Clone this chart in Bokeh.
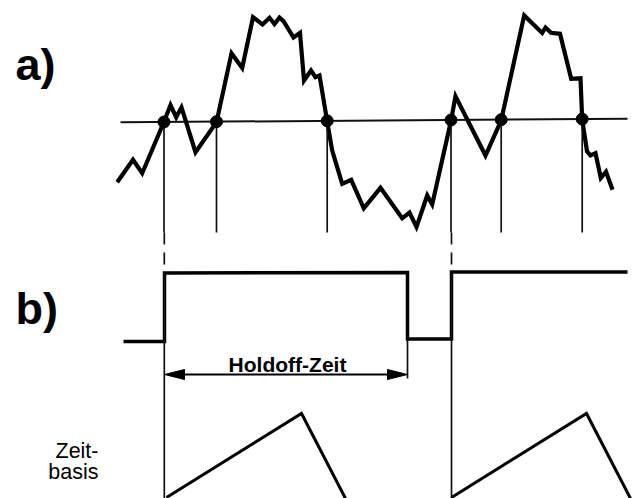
from bokeh.plotting import figure
from bokeh.models import Range1d
from bokeh.core.properties import value
from bokeh.embed import file_html
from bokeh.resources import INLINE

# ---- a) input signal (schematic units: x to the right, y downward) ----
sig_x = [116.7, 132.5, 141.7, 163.3, 170, 175.7, 181, 195, 216, 231, 241.7, 252.5,
         262, 269, 274, 279, 283, 293, 299.5, 303.5, 310.5, 315, 319, 326.7, 331.7,
         341.7, 350.7, 363.3, 380, 401.7, 409, 416, 426.7, 431.7, 450.5, 455, 485,
         500.7, 523.7, 541.7, 545, 550.5, 559.5, 570.7, 580, 581.7, 586.5, 590, 595,
         600.3, 605.5, 612]
sig_y = [181.7, 159.3, 172.7, 121.7, 104.5, 116.7, 106.8, 151.7, 121.7, 52.7, 67.5, 16.7,
         24, 17.3, 23.5, 17, 20.7, 37, 32.3, 80, 70, 76.7, 75, 121, 150,
         183.3, 179.3, 207.8, 187.3, 217.8, 212, 226.4, 195, 204, 120.3, 95.8, 155,
         119.8, 15, 32.5, 27, 32.3, 33.3, 78.3, 77.8, 119, 150.8, 155, 152.7,
         177.5, 171.2, 189.3]

# trigger level line
level_x = [120, 627]
level_y = [121.8, 118.3]

# crossings of the trigger level
cross_x = [163.5, 216, 326.7, 450.5, 500.7, 581.7]
cross_bottom = 232
trigger_x = [163.8, 451]          # crossings that actually start the time base

# ---- b) trigger / holdoff gate ----
gate_x = [123, 164, 164, 407, 407, 451, 451, 627]
gate_y = [341, 341, 272.5, 272, 338.5, 338.5, 271.5, 271.5]
gate_top = 272
holdoff_start = 164
holdoff_end = 407
holdoff_y = 374

# ---- time base sawtooth ----
saw_x = [[166, 301, 345], [451, 586, 630]]
saw_y = [[497, 413, 498], [497, 413, 498]]
saw_bottom = 498

def level_at(x):
    return level_y[0] + (level_y[1] - level_y[0]) * (x - level_x[0]) / (level_x[1] - level_x[0])

cross_y = [level_at(x) for x in cross_x]

p = figure(width=632, height=498, x_range=Range1d(0, 632), y_range=Range1d(498, 0),
           output_backend="svg", toolbar_location=None, min_border=0,
           x_axis_type=None, y_axis_type=None)
p.grid.visible = False
p.outline_line_color = None
p.background_fill_color = "white"
p.border_fill_color = "white"

# level line
p.line(level_x, level_y, line_width=2, color="#111111")
# signal
p.line(sig_x, sig_y, line_width=4.2, color="black", line_join="miter")
# verticals from crossings
p.segment(x0=cross_x, y0=cross_y, x1=cross_x, y1=[cross_bottom] * len(cross_x),
          line_width=1.7, color="#111111")
# dashed continuation to gate
p.segment(x0=trigger_x, y0=[cross_bottom] * 2, x1=trigger_x, y1=[gate_top] * 2,
          line_width=1.7, color="#111111", line_dash="12 8")
# crossing dots
p.scatter(cross_x, cross_y, size=12, color="black")

# gate
p.line(gate_x, gate_y, line_width=3.5, color="black", line_join="miter")
# thin verticals down to time base
p.segment(x0=trigger_x, y0=[gate_top] * 2, x1=trigger_x, y1=[saw_bottom] * 2,
          line_width=1.7, color="#111111")
p.segment(x0=[holdoff_end], y0=[gate_y[4]], x1=[holdoff_end], y1=[holdoff_y + 4],
          line_width=1.7, color="#111111")

# holdoff arrow
head_len, head_half = 20, 5
p.segment(x0=[holdoff_start + head_len], y0=[holdoff_y], x1=[holdoff_end - head_len], y1=[holdoff_y],
          line_width=2, color="black")
p.patches(xs=[[holdoff_start, holdoff_start + head_len, holdoff_start + head_len],
              [holdoff_end, holdoff_end - head_len, holdoff_end - head_len]],
          ys=[[holdoff_y, holdoff_y - head_half, holdoff_y + head_half],
              [holdoff_y, holdoff_y - head_half, holdoff_y + head_half]],
          color="black", line_width=1)

# sawtooth
p.multi_line(saw_x, saw_y, line_width=3, color="black", line_join="miter")

font = value("Liberation Sans")
p.text(x=[15, 15], y=[64, 308], text=["a)", "b)"], text_font=font, text_font_style="bold",
       text_font_size="45px", text_baseline="alphabetic", text_align="left", color="black")
p.text(x=[287], y=[364], text=["Holdoff-Zeit"], text_font=font, text_font_style="bold",
       text_font_size="21px", text_baseline="alphabetic", text_align="center", color="black")
p.text(x=[98, 98], y=[450, 471], text=["Zeit-", "basis"], text_font=font, text_font_style="normal",
       text_font_size="21.5px", text_baseline="alphabetic", text_align="right", color="black")

open("out.html", "w").write(file_html(p, INLINE))
